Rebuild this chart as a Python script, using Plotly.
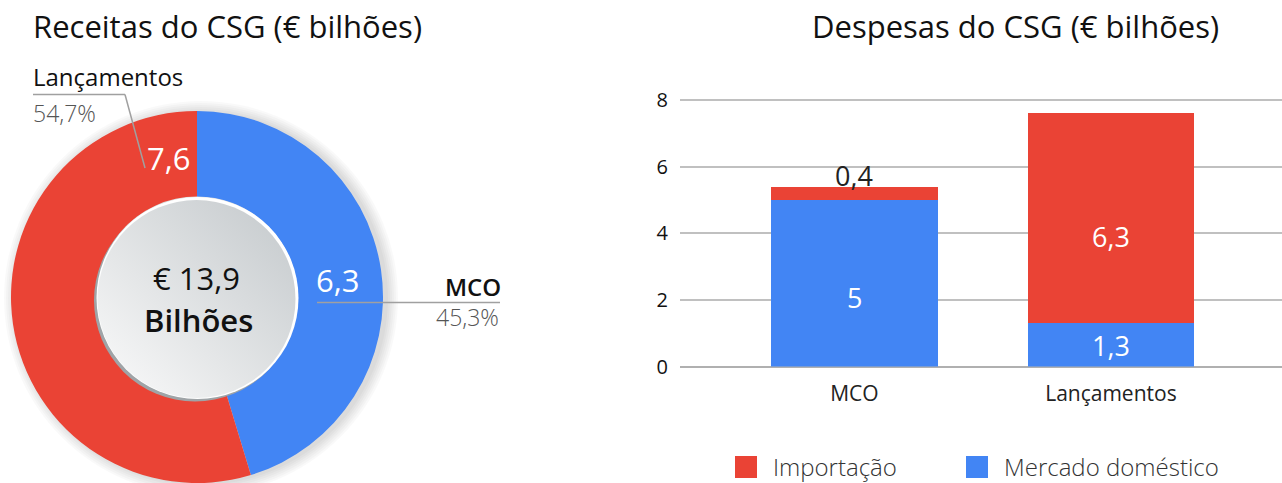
import base64
import plotly.graph_objects as go

# ---------------- data ----------------
pie_labels = ["MCO", "Lançamentos"]
pie_values = [6.3, 7.6]

bar_categories = ["MCO", "Lançamentos"]
series_mercado_name = "Mercado doméstico"
series_mercado = [5.0, 1.3]
series_import_name = "Importação"
series_import = [0.4, 6.3]

y_ticks = [0, 2, 4, 6, 8]

title_left = "Receitas do CSG (€ bilhões)"
title_right = "Despesas do CSG (€ bilhões)"
center_unit = "Bilhões"

# ---------------- style ----------------
W, H = 1282, 483
RED = "#EA4335"
BLUE = "#4285F4"
FONT = "Open Sans"
# label offsets (px) for the in-bar value labels, per stack segment
mercado_label_shift = [-14, -1]
import_label_shift = [-9, -18]


def fx(px):
    return px / W


def fy(py):
    return 1 - py / H


def fmt(v):
    return f"{v:g}".replace(".", ",")


total = sum(pie_values)
pct = [v / total * 100 for v in pie_values]

fig = go.Figure()

# donut
fig.add_trace(go.Pie(
    labels=pie_labels, values=pie_values, sort=False, direction="clockwise",
    rotation=0, hole=0.54, textinfo="none", showlegend=False,
    marker=dict(colors=[BLUE, RED], line=dict(width=0)),
    domain=dict(x=[fx(11), fx(383)], y=[0, fy(111)]),
))

# stacked bars
fig.add_trace(go.Bar(
    x=bar_categories, y=series_mercado, name=series_mercado_name,
    marker=dict(color=BLUE, line=dict(width=0)), width=0.65,
    textposition="none", showlegend=False,
))
fig.add_trace(go.Bar(
    x=bar_categories, y=series_import, name=series_import_name,
    marker=dict(color=RED, line=dict(width=0)), width=0.65,
    textposition="none", showlegend=False,
))

fig.update_layout(
    width=W, height=H, margin=dict(l=0, r=0, t=0, b=0, pad=0, autoexpand=False),
    paper_bgcolor="white", plot_bgcolor="white", showlegend=False,
    barmode="stack", bargap=0, separators=",.",
    font=dict(family=FONT, color="#111111"),
    xaxis=dict(domain=[fx(680), 1], range=[-0.68, 1.667], showgrid=False,
               showline=False, zeroline=False, ticks="", ticklabelstandoff=12,
               automargin=False,
               tickfont=dict(size=21, color="#222222")),
    yaxis=dict(domain=[fy(366.5), fy(90)], range=[0, 8.3], tickvals=y_ticks,
               showgrid=True, gridcolor="#c0c0c0", gridwidth=1.5,
               zeroline=True, zerolinecolor="#b0b0b0", zerolinewidth=1.5,
               showline=False, ticks="", ticklabelstandoff=11, automargin=False,
               tickfont=dict(size=20, color="#111111")),
)

# soft shadow around donut (offset slightly to the right)
shapes = []
for k in range(6):
    r = 187 + 2 * k
    cx, cy = 201, 298
    shapes.append(dict(type="circle", xref="paper", yref="paper", layer="below",
                       x0=fx(cx - r), x1=fx(cx + r), y0=fy(cy + r), y1=fy(cy - r),
                       fillcolor="rgba(0,0,0,0.025)", line=dict(width=0)))

# leader lines
LINE = dict(color="#a0a0a0", width=1.5)
shapes.append(dict(type="line", xref="paper", yref="paper", x0=fx(33), x1=fx(125),
                   y0=fy(94.5), y1=fy(94.5), line=LINE))
shapes.append(dict(type="line", xref="paper", yref="paper", x0=fx(125), x1=fx(145),
                   y0=fy(94.5), y1=fy(168), line=LINE))
shapes.append(dict(type="line", xref="paper", yref="paper", x0=fx(317), x1=fx(500),
                   y0=fy(302.5), y1=fy(302.5), line=LINE))

# legend squares
shapes.append(dict(type="rect", xref="paper", yref="paper", x0=fx(735), x1=fx(757),
                   y0=fy(478), y1=fy(456), fillcolor=RED, line=dict(width=0)))
shapes.append(dict(type="rect", xref="paper", yref="paper", x0=fx(966), x1=fx(988),
                   y0=fy(478), y1=fy(456), fillcolor=BLUE, line=dict(width=0)))
fig.update_layout(shapes=shapes)

# inner gradient disc
svg = """<svg xmlns='http://www.w3.org/2000/svg' width='212' height='212' viewBox='0 0 212 212'>
<defs><linearGradient id='g' x1='0' y1='1' x2='1' y2='0'>
<stop offset='0' stop-color='#fbfbfb'/><stop offset='1' stop-color='#c3c8cb'/></linearGradient></defs>
<circle cx='104.5' cy='107.5' r='101' fill='#9fa4a7'/>
<circle cx='107' cy='105' r='101' fill='#ffffff'/>
<circle cx='106' cy='106' r='99' fill='url(#g)'/>
</svg>"""
src = "data:image/svg+xml;base64," + base64.b64encode(svg.encode()).decode()
fig.add_layout_image(dict(source=src, xref="paper", yref="paper",
                          x=fx(196.5 - 106), y=fy(299 - 106), sizex=212 / W, sizey=212 / H,
                          xanchor="left", yanchor="top", sizing="stretch", layer="above"))

ann = []
# titles
ann.append(dict(text=title_left, x=fx(31), y=fy(26), xanchor="left", yanchor="middle",
                font=dict(size=31, color="#111111", family=FONT)))
ann.append(dict(text=title_right, x=fx(1015.5), y=fy(26), xanchor="center", yanchor="middle",
                font=dict(size=31, color="#111111", family=FONT)))
# pie value labels
ann.append(dict(text=fmt(pie_values[1]), x=fx(168), y=fy(158), xanchor="center", yanchor="middle",
                font=dict(size=31, color="white", family=FONT)))
ann.append(dict(text=fmt(pie_values[0]), x=fx(337), y=fy(280), xanchor="center", yanchor="middle",
                font=dict(size=31, color="white", family=FONT)))
# pie category labels
ann.append(dict(text=pie_labels[1], x=fx(31), y=fy(76), xanchor="left", yanchor="middle",
                font=dict(size=24, color="#111111", family=FONT, weight=500)))
ann.append(dict(text=f"{pct[1]:.1f}%".replace(".", ","), x=fx(31), y=fy(113), xanchor="left",
                yanchor="middle", font=dict(size=23, color="#555555", family=FONT, weight=300)))
ann.append(dict(text=pie_labels[0], x=fx(503), y=fy(286), xanchor="right", yanchor="middle",
                font=dict(size=24, color="#111111", family=FONT, weight=600)))
ann.append(dict(text=f"{pct[0]:.1f}%".replace(".", ","), x=fx(501), y=fy(317), xanchor="right",
                yanchor="middle", font=dict(size=23, color="#555555", family=FONT, weight=300)))
# center total (two stacked lines meeting at one boundary)
ann.append(dict(text=f"€ {fmt(round(total, 1))}", x=fx(196), y=fy(299.5), xanchor="center",
                yanchor="bottom", borderpad=0, font=dict(size=31, color="#111111", family=FONT)))
ann.append(dict(text=center_unit, x=fx(198), y=fy(297.5), xanchor="center",
                yanchor="top", borderpad=0,
                font=dict(size=31, color="#111111", family=FONT, weight=600)))
# legend text
ann.append(dict(text=series_import_name, x=fx(771), y=fy(466), xanchor="left", yanchor="middle",
                font=dict(size=24, color="#333333", family=FONT, weight=300)))
ann.append(dict(text=series_mercado_name, x=fx(1002), y=fy(466), xanchor="left", yanchor="middle",
                font=dict(size=24, color="#333333", family=FONT, weight=300)))
for a in ann:
    a.update(xref="paper", yref="paper", showarrow=False)

# bar value labels (data coordinates)
for i, cat in enumerate(bar_categories):
    m = series_mercado[i]
    im = series_import[i]
    ann.append(dict(text=fmt(m), x=cat, y=m / 2, xref="x", yref="y", showarrow=False,
                    yshift=mercado_label_shift[i], yanchor="middle",
                    font=dict(size=27, color="white", family=FONT)))
    if im < 1:
        ann.append(dict(text=fmt(im), x=cat, y=m + im, xref="x", yref="y", showarrow=False,
                        yshift=import_label_shift[i], yanchor="bottom",
                        font=dict(size=27, color="#222222", family=FONT)))
    else:
        ann.append(dict(text=fmt(im), x=cat, y=m + im / 2, xref="x", yref="y", showarrow=False,
                        yshift=import_label_shift[i], yanchor="middle",
                        font=dict(size=27, color="white", family=FONT)))
fig.update_layout(annotations=ann)

fig.write_html("out.html")
